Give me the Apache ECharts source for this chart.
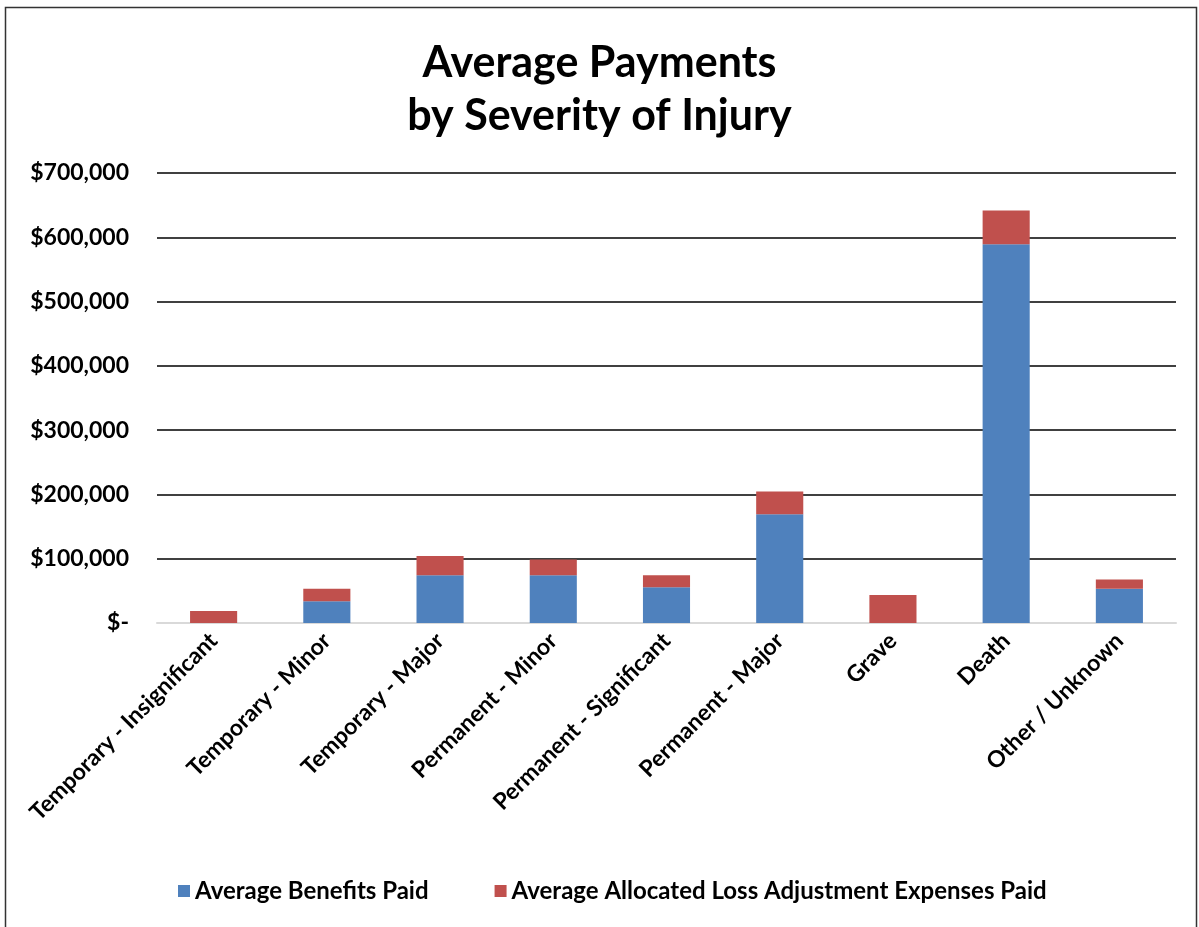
<!DOCTYPE html>
<html><head><meta charset="utf-8">
<script src="https://cdn.jsdelivr.net/npm/echarts@6/dist/echarts.min.js"></script>
<style>html,body{margin:0;padding:0;background:#fff;}#c{width:1199px;height:927px;}</style>
</head><body><div id="c"></div>
<script>
const categories = ['Temporary - Insignificant','Temporary - Minor','Temporary - Major','Permanent - Minor','Permanent - Significant','Permanent - Major','Grave','Death','Other / Unknown'];
const benefits = [0, 34000, 74400, 74400, 55800, 169000, 0, 589000, 53200];
const alae = [18600, 19200, 30000, 24200, 18600, 35600, 43400, 52800, 14400];
const seriesNames = ['Average Benefits Paid','Average Allocated Loss Adjustment Expenses Paid'];
const titleText = 'Average Payments\nby Severity of Injury';
const FONT = 'Lato';
const chart = echarts.init(document.getElementById('c'));
chart.setOption({
  animation: false,
  backgroundColor: '#fff',
  graphic: [{type:'rect', shape:{x:5.5,y:7.5,width:1191,height:930}, style:{fill:'none',stroke:'#333',lineWidth:1.5}, silent:true}],
  title: {text: titleText, left: 'center', top: 32, textStyle:{fontFamily:FONT, fontWeight:'bold', fontSize:43, lineHeight:53, color:'#000'}},
  legend: {bottom: 19, left: 173, itemWidth:12, itemHeight:12, itemGap:66, icon:'rect',
    textStyle:{fontFamily:FONT, fontWeight:'bold', fontSize:24, color:'#000'}, data: seriesNames},
  grid: {left:157, right:23, top:173, bottom:304, containLabel:false},
  xAxis: {type:'category', data: categories,
    axisLine:{lineStyle:{color:'#d9d9d9', width:2}}, axisTick:{show:false},
    axisLabel:{rotate:45, interval:0, margin:14, fontFamily:FONT, fontWeight:'bold', fontSize:23, color:'#000'}},
  yAxis: {type:'value', min:0, max:700000, interval:100000,
    axisLine:{show:false}, axisTick:{show:false},
    splitLine:{lineStyle:{color:'#000', width:1.5}},
    axisLabel:{margin:28, fontFamily:FONT, fontWeight:'bold', fontSize:23, color:'#000',
      formatter: v => v === 0 ? '$-' : '$' + v.toLocaleString('en-US')}},
  series: [
    {name: seriesNames[0], type:'bar', stack:'t', data: benefits, barWidth:'41.6%', itemStyle:{color:'#4f81bd'}},
    {name: seriesNames[1], type:'bar', stack:'t', data: alae, barWidth:'41.6%', itemStyle:{color:'#c0504d'}}
  ]
});
</script></body></html>
